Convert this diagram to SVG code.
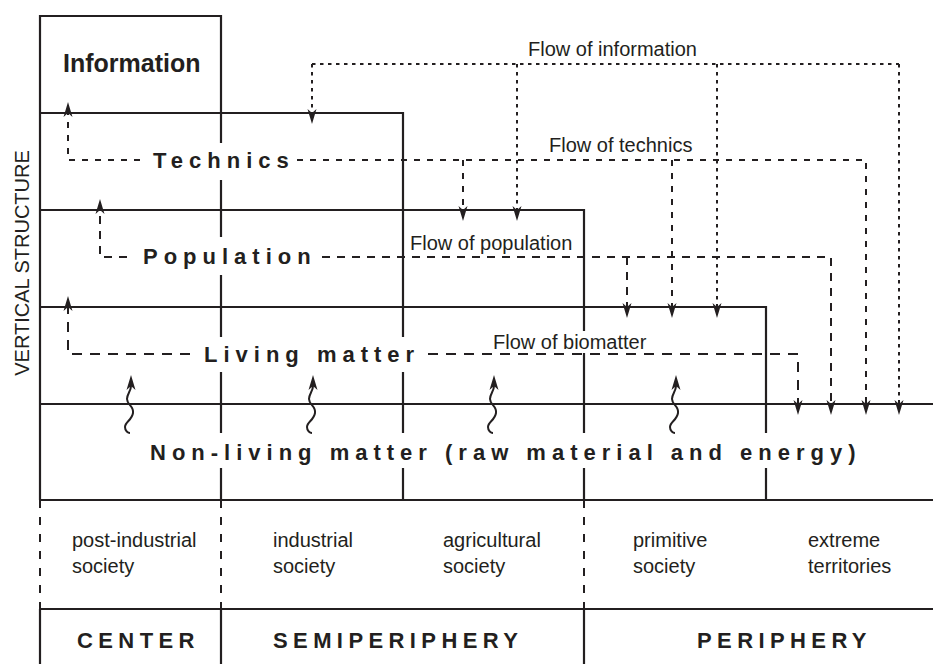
<svg xmlns="http://www.w3.org/2000/svg" xmlns:xlink="http://www.w3.org/1999/xlink" width="933" height="664" viewBox="0 0 933 664">
<style>
.ln{stroke:#231f20;stroke-width:2.2;fill:none}
.dl{stroke:#231f20;stroke-width:2;fill:none;stroke-dasharray:8 9}
.bg{fill:#fff;stroke:none}
.lab{font-family:"Liberation Sans",Arial,sans-serif;font-weight:bold;font-size:22px;letter-spacing:6px;fill:#231f20}
.reg{font-family:"Liberation Sans",Arial,sans-serif;font-weight:bold;font-size:22px;letter-spacing:5.4px;fill:#231f20}
.fl{font-family:"Liberation Sans",Arial,sans-serif;font-size:20px;fill:#231f20}
.soc{font-family:"Liberation Sans",Arial,sans-serif;font-size:20px;fill:#231f20}
.info{stroke:#231f20;stroke-width:2;fill:none;stroke-dasharray:3.5 4.5;marker-end:url(#ah)}
.tech{stroke:#231f20;stroke-width:2;fill:none;stroke-dasharray:6 7;marker-end:url(#ah)}
.pop{stroke:#231f20;stroke-width:2;fill:none;stroke-dasharray:8 7;marker-end:url(#ah)}
.bio{stroke:#231f20;stroke-width:2;fill:none;stroke-dasharray:10 8;marker-end:url(#ah)}
.sq{stroke:#231f20;stroke-width:2;fill:none;marker-start:url(#ahs)}
.nomk{marker-end:none}
</style>
<defs>
<marker id="ah" markerUnits="userSpaceOnUse" markerWidth="20" markerHeight="12" refX="0" refY="0" orient="auto" overflow="visible">
<path d="M11,0 L-4,-4.5 L0,0 L-4,4.5 Z" fill="#231f20"/>
</marker>
<marker id="ahs" markerUnits="userSpaceOnUse" markerWidth="20" markerHeight="12" refX="0" refY="0" orient="auto-start-reverse" overflow="visible">
<path d="M11,0 L-4,-4.5 L0,0 L-4,4.5 Z" fill="#231f20"/>
</marker>
<path id="squig" d="M0,0 C0,5 -4,8 -4,13 C-4,19 3,20 2,27 C1,34 -6,36 -6,41 C-6,45 -3,47 -1,47"/>
</defs>
<rect width="933" height="664" fill="#fff"/>

<g id="frame">
<path class="ln" d="M40,500 V16 H221 V500"/>
<path class="ln" d="M40,113 H403 V500"/>
<path class="ln" d="M40,210 H584 V500"/>
<path class="ln" d="M40,307 H766 V500"/>
<path class="ln" d="M40,404 H933"/>
<path class="ln" d="M40,500 H933"/>
<path class="ln" d="M40,609 H933"/>
<path class="ln" d="M40,609 V664 M221,609 V664 M584,609 V664"/>
<path class="dl" d="M40,500 V609 M221,500 V609 M584,500 V609"/>
</g>

<g id="label-backgrounds">
<rect class="bg" x="141" y="143" width="156" height="37"/>
<rect class="bg" x="131" y="237" width="190" height="38"/>
<rect class="bg" x="191" y="337" width="236" height="35"/>
<rect class="bg" x="140" y="433" width="732" height="35"/>
<rect class="bg" x="490" y="331" width="162" height="22"/>
</g>

<g id="vertical-structure">
<text class="fl" font-size="19" text-anchor="middle" transform="translate(29,263) rotate(-90)">VERTICAL STRUCTURE</text>
</g>
<g id="information"><text x="63" y="72" font-family="Liberation Sans, Arial, sans-serif" font-weight="bold" font-size="25" fill="#231f20">Information</text></g>
<g id="technics"><text class="lab" x="153" y="168">Technics</text></g>
<g id="population"><text class="lab" x="143" y="264">Population</text></g>
<g id="living-matter"><text class="lab" x="204" y="362">Living matter</text></g>
<g id="non-living-matter"><text class="lab" x="150" y="460">Non-living matter (raw material and energy)</text></g>

<g id="flow-labels">
<text class="fl" x="528" y="56">Flow of information</text>
<text class="fl" x="549" y="152">Flow of technics</text>
<text class="fl" x="410" y="250">Flow of population</text>
<text class="fl" x="493" y="349">Flow of biomatter</text>
</g>

<g id="societies">
<g id="post-industrial"><text class="soc" x="72" y="547">post-industrial</text><text class="soc" x="72" y="573">society</text></g>
<g id="industrial"><text class="soc" x="273" y="547">industrial</text><text class="soc" x="273" y="573">society</text></g>
<g id="agricultural"><text class="soc" x="443" y="547">agricultural</text><text class="soc" x="443" y="573">society</text></g>
<g id="primitive"><text class="soc" x="633" y="547">primitive</text><text class="soc" x="633" y="573">society</text></g>
<g id="extreme"><text class="soc" x="808" y="547">extreme</text><text class="soc" x="808" y="573">territories</text></g>
</g>

<g id="regions">
<g id="center"><text class="reg" x="77" y="648">CENTER</text></g>
<g id="semiperiphery"><text class="reg" x="273" y="648">SEMIPERIPHERY</text></g>
<g id="periphery"><text class="reg" x="697" y="648">PERIPHERY</text></g>
</g>

<g id="connectors">
<path class="info nomk" d="M312,64 H899"/>
<path class="info" d="M312,64 V113"/>
<path class="info" d="M517,64 V210"/>
<path class="info" d="M717,64 V307"/>
<path class="info" d="M899,64 V404"/>
<path class="tech" d="M140,160 H68 V113"/>
<path class="tech" d="M297,160 H866 V404"/>
<path class="tech" d="M463,160 V210"/>
<path class="tech" d="M672,160 V307"/>
<path class="pop" d="M127,257 H100 V210"/>
<path class="pop" d="M322,257 H831 V404"/>
<path class="pop" d="M627,257 V307"/>
<path class="bio" d="M190,354 H68 V307"/>
<path class="bio" d="M428,354 H798 V404"/>
<use class="sq" xlink:href="#squig" href="#squig" x="131" y="386"/>
<use class="sq" xlink:href="#squig" href="#squig" x="313" y="386"/>
<use class="sq" xlink:href="#squig" href="#squig" x="494" y="386"/>
<use class="sq" xlink:href="#squig" href="#squig" x="676" y="386"/>
</g>
</svg>
